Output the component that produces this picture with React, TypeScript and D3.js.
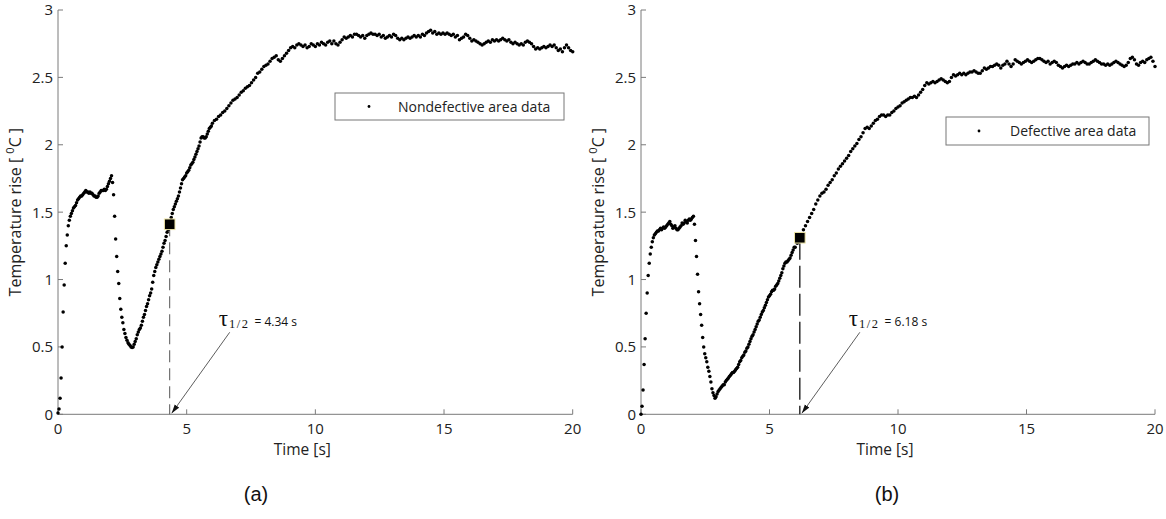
import React from 'react';
import * as d3 from 'd3';

// ---------- data ----------
const xTicks = [0, 5, 10, 15, 20];
const yTicks = [0, 0.5, 1, 1.5, 2, 2.5, 3];
const earlyStep = 0.04; // s, samples 0 .. 5.96 s
const lateStart = 6;
const lateStep = 0.08; // s, samples 6 .. 20 s

// Nondefective area (a)
const nondefEarly = [
  0.01, 0.04, 0.12, 0.27, 0.50, 0.76, 0.96, 1.12, 1.25, 1.33,
  1.40, 1.44, 1.47, 1.49, 1.51, 1.53, 1.54, 1.55, 1.57, 1.59,
  1.60, 1.61, 1.62, 1.62, 1.63, 1.64, 1.65, 1.66, 1.65, 1.65,
  1.64, 1.65, 1.64, 1.64, 1.63, 1.62, 1.62, 1.61, 1.61, 1.62,
  1.64, 1.65, 1.66, 1.66, 1.66, 1.67, 1.66, 1.67, 1.69, 1.71,
  1.73, 1.75, 1.77, 1.72, 1.63, 1.47, 1.30, 1.17, 1.06, 0.97,
  0.86, 0.78, 0.72, 0.68, 0.63, 0.60, 0.57, 0.55, 0.53, 0.52,
  0.51, 0.50, 0.495, 0.50, 0.52, 0.54, 0.56, 0.59, 0.61, 0.63,
  0.64, 0.66, 0.69, 0.72, 0.74, 0.77, 0.80, 0.82, 0.85, 0.88,
  0.90, 0.93, 0.98, 1.03, 1.06, 1.09, 1.11, 1.13, 1.15, 1.17,
  1.19, 1.21, 1.24, 1.27, 1.29, 1.32, 1.35, 1.37, 1.40, 1.43,
  1.46, 1.49, 1.52, 1.54, 1.56, 1.58, 1.60, 1.62, 1.65, 1.68,
  1.71, 1.74, 1.75, 1.76, 1.77, 1.79, 1.80, 1.81, 1.83, 1.85,
  1.86, 1.87, 1.89, 1.91, 1.93, 1.95, 1.97, 1.99, 2.02, 2.05,
  2.06, 2.06, 2.05, 2.05, 2.06, 2.08, 2.10, 2.12, 2.13, 2.14,
];
const nondefLate = [
  2.16, 2.18, 2.19, 2.21, 2.22, 2.24, 2.25, 2.27, 2.29, 2.31,
  2.33, 2.34, 2.35, 2.37, 2.39, 2.40, 2.42, 2.43, 2.44, 2.46,
  2.48, 2.50, 2.53, 2.54, 2.56, 2.58, 2.59, 2.60, 2.62, 2.64,
  2.65, 2.66, 2.63, 2.62, 2.64, 2.66, 2.68, 2.70, 2.72, 2.73,
  2.72, 2.74, 2.75, 2.74, 2.73, 2.74, 2.72, 2.73, 2.75, 2.74,
  2.73, 2.75, 2.74, 2.76, 2.75, 2.74, 2.76, 2.77, 2.75, 2.77,
  2.75, 2.74, 2.76, 2.78, 2.80, 2.79, 2.80, 2.81, 2.80, 2.82,
  2.82, 2.81, 2.80, 2.81, 2.79, 2.81, 2.82, 2.83, 2.82, 2.82,
  2.81, 2.82, 2.80, 2.81, 2.79, 2.80, 2.81, 2.80, 2.82, 2.81,
  2.79, 2.78, 2.79, 2.78, 2.79, 2.80, 2.79, 2.80, 2.81, 2.80,
  2.81, 2.80, 2.82, 2.81, 2.83, 2.84, 2.85, 2.83, 2.84, 2.82,
  2.83, 2.82, 2.83, 2.82, 2.83, 2.82, 2.81, 2.82, 2.80, 2.81,
  2.78, 2.79, 2.80, 2.82, 2.81, 2.79, 2.77, 2.78, 2.77, 2.76,
  2.75, 2.74, 2.75, 2.76, 2.77, 2.76, 2.78, 2.77, 2.78, 2.77,
  2.78, 2.79, 2.78, 2.77, 2.78, 2.76, 2.75, 2.76, 2.75, 2.74,
  2.75, 2.74, 2.76, 2.77, 2.76, 2.75, 2.73, 2.71, 2.72, 2.71,
  2.72, 2.73, 2.72, 2.73, 2.74, 2.73, 2.74, 2.72, 2.70, 2.71,
  2.69, 2.72, 2.74, 2.72, 2.70, 2.69,
];

// Defective area (b)
const defEarly = [
  0.00, 0.06, 0.18, 0.37, 0.56, 0.75, 0.90, 1.03, 1.12, 1.19,
  1.24, 1.28, 1.31, 1.33, 1.34, 1.35, 1.36, 1.36, 1.37, 1.38,
  1.37, 1.38, 1.39, 1.38, 1.39, 1.40, 1.41, 1.42, 1.43, 1.41,
  1.40, 1.38, 1.39, 1.40, 1.38, 1.37, 1.37, 1.38, 1.39, 1.40,
  1.42, 1.41, 1.42, 1.44, 1.43, 1.42, 1.44, 1.45, 1.44, 1.45,
  1.46, 1.47, 1.41, 1.29, 1.17, 1.04, 0.91, 0.82, 0.74, 0.66,
  0.57, 0.50, 0.45, 0.42, 0.39, 0.35, 0.32, 0.28, 0.24, 0.19,
  0.16, 0.14, 0.12, 0.13, 0.15, 0.17, 0.18, 0.19, 0.20, 0.21,
  0.22, 0.22, 0.24, 0.25, 0.26, 0.27, 0.28, 0.29, 0.30, 0.31,
  0.31, 0.32, 0.33, 0.34, 0.35, 0.37, 0.39, 0.40, 0.42, 0.43,
  0.44, 0.46, 0.47, 0.49, 0.50, 0.52, 0.54, 0.56, 0.58, 0.59,
  0.61, 0.63, 0.65, 0.67, 0.69, 0.70, 0.72, 0.74, 0.76, 0.77,
  0.79, 0.81, 0.83, 0.85, 0.87, 0.88, 0.89, 0.91, 0.92, 0.92,
  0.93, 0.95, 0.96, 0.97, 0.99, 1.01, 1.03, 1.05, 1.08, 1.10,
  1.12, 1.13, 1.13, 1.14, 1.15, 1.16, 1.18, 1.20, 1.22, 1.24,
];
const defLate = [
  1.24, 1.27, 1.31, 1.34, 1.37, 1.40, 1.43, 1.46, 1.49, 1.52,
  1.56, 1.59, 1.62, 1.64, 1.65, 1.67, 1.70, 1.72, 1.74, 1.77,
  1.79, 1.82, 1.84, 1.86, 1.88, 1.90, 1.92, 1.95, 1.97, 1.99,
  2.01, 2.04, 2.06, 2.09, 2.12, 2.13, 2.12, 2.14, 2.16, 2.18,
  2.19, 2.21, 2.22, 2.22, 2.21, 2.22, 2.22, 2.24, 2.25, 2.27,
  2.28, 2.29, 2.31, 2.32, 2.33, 2.34, 2.35, 2.35, 2.36, 2.35,
  2.37, 2.39, 2.41, 2.44, 2.46, 2.45, 2.46, 2.47, 2.46, 2.47,
  2.48, 2.49, 2.48, 2.47, 2.46, 2.47, 2.50, 2.52, 2.51, 2.52,
  2.53, 2.52, 2.53, 2.52, 2.53, 2.54, 2.54, 2.55, 2.54, 2.53,
  2.53, 2.55, 2.57, 2.56, 2.57, 2.58, 2.58, 2.59, 2.60, 2.59,
  2.57, 2.59, 2.60, 2.62, 2.60, 2.58, 2.60, 2.63, 2.62, 2.61,
  2.60, 2.61, 2.62, 2.63, 2.62, 2.61, 2.62, 2.63, 2.64, 2.64,
  2.63, 2.62, 2.61, 2.62, 2.60, 2.61, 2.62, 2.61, 2.59, 2.58,
  2.57, 2.58, 2.59, 2.58, 2.59, 2.60, 2.60, 2.61, 2.60, 2.61,
  2.62, 2.61, 2.60, 2.60, 2.61, 2.62, 2.63, 2.62, 2.61, 2.60,
  2.60, 2.59, 2.60, 2.59, 2.60, 2.61, 2.62, 2.61, 2.60, 2.59,
  2.58, 2.59, 2.61, 2.64, 2.65, 2.63, 2.60, 2.59, 2.61, 2.62,
  2.61, 2.63, 2.64, 2.65, 2.62, 2.58,
];

const legendLabels = ['Nondefective area data', 'Defective area data'];
const halfTimes = [4.34, 6.18];
const halfTemps = [1.41, 1.31];
const halfLabels = ['= 4.34 s', '= 6.18 s'];
const captions = ['(a)', '(b)'];

function buildPoints(early: number[], late: number[]): [number, number][] {
  return [
    ...early.map((v, i) => [i * earlyStep, v] as [number, number]),
    ...late.map((v, i) => [lateStart + i * lateStep, v] as [number, number]),
  ];
}

const series = [buildPoints(nondefEarly, nondefLate), buildPoints(defEarly, defLate)];

// ---------- layout ----------
const W = 1166;
const H = 519;
const TOP = 10;
const BOTTOM = 414.3;
const panelsLayout = [
  { left: 58, right: 572.7, legend: { x: 335, y: 93, w: 229, h: 27, dot: 34, tx: 63 }, dash: '12,6', dashColor: '#555', dashW: 1, caption: 256 },
  { left: 641, right: 1155, legend: { x: 946, y: 117, w: 203, h: 28, dot: 33, tx: 64 }, dash: '22,6', dashColor: '#111', dashW: 1.3, caption: 887 },
];

const SANS = "'Open Sans', 'DejaVu Sans', sans-serif";
const SERIF = "'Liberation Serif', 'DejaVu Serif', serif";

function Panel({ idx }: { idx: number }) {
  const L = panelsLayout[idx];
  const x = d3.scaleLinear().domain([0, 20]).range([L.left, L.right]);
  const y = d3.scaleLinear().domain([0, 3]).range([BOTTOM, TOP]);
  const pts = series[idx];
  const tx = x(halfTimes[idx]);
  const ty = y(halfTemps[idx]);
  const tipX = tx + 2;
  const tipY = y(0) - 1;
  const axisColor = '#7a7a7a';
  const labelColor = '#222';
  const lg = L.legend;
  return (
    <g>
      {/* axes */}
      <line x1={L.left} x2={L.left} y1={y(0)} y2={y(3)} stroke={axisColor} strokeWidth={1} />
      <line x1={L.left} x2={L.right} y1={y(0)} y2={y(0)} stroke={axisColor} strokeWidth={1} />
      {yTicks.map((t) => (
        <g key={'y' + t}>
          <line x1={L.left} x2={L.left + 5} y1={y(t)} y2={y(t)} stroke={axisColor} />
          <text x={L.left - 5} y={y(t)} dy="0.36em" textAnchor="end" fontSize={15} fill={labelColor}>
            {t}
          </text>
        </g>
      ))}
      {xTicks.map((t) => (
        <g key={'x' + t}>
          <line x1={x(t)} x2={x(t)} y1={y(0)} y2={y(0) - 5} stroke={axisColor} />
          <text x={x(t)} y={y(0) + 20} textAnchor="middle" fontSize={15} fill={labelColor}>
            {t}
          </text>
        </g>
      ))}
      {/* axis labels */}
      <text
        transform={`translate(${L.left - 37},${(y(0) + y(3)) / 2}) rotate(-90)`}
        textAnchor="middle"
        fontSize={16}
        fill={labelColor}
      >
        Temperature rise [ <tspan fontSize={11} dy={-7}>0</tspan>
        <tspan dy={7}>C ]</tspan>
      </text>
      <text x={(L.left + L.right) / 2 - 13} y={455} textAnchor="middle" fontSize={15.5} fill={labelColor}>
        Time [s]
      </text>
      {/* dashed vertical line */}
      <line x1={tx} x2={tx} y1={ty} y2={y(0)} stroke={L.dashColor} strokeWidth={L.dashW} strokeDasharray={L.dash} />
      {/* data */}
      <g fill="#000">
        {pts.map((p, i) => (
          <circle key={i} cx={x(p[0])} cy={y(p[1])} r={1.75} />
        ))}
      </g>
      {/* half-time marker */}
      <rect x={tx - 5.3} y={ty - 5.3} width={10.6} height={10.6} fill="#000" stroke="#efe6a8" strokeWidth={1} />
      {/* arrow */}
      <line x1={tipX + 58} y1={tipY - 81} x2={tipX} y2={tipY} stroke="#333" strokeWidth={0.8} markerEnd="url(#arrowHead)" />
      <text x={tipX + 47} y={tipY - 87} fill="#111">
        <tspan fontFamily={SERIF} fontSize={23}>τ</tspan>
        <tspan fontFamily={SERIF} fontSize={12.5} dy={2} dx={1} letterSpacing={1.5}>1/2</tspan>
        <tspan fontSize={12} dy={-2} dx={5}>{halfLabels[idx]}</tspan>
      </text>
      {/* legend */}
      <rect x={lg.x} y={lg.y} width={lg.w} height={lg.h} fill="#fff" stroke="#777" strokeWidth={1} />
      <circle cx={lg.x + lg.dot} cy={lg.y + lg.h / 2} r={1.4} fill="#000" />
      <text x={lg.x + lg.tx} y={lg.y + lg.h / 2} dy="0.36em" fontSize={14} fill={labelColor}>
        {legendLabels[idx]}
      </text>
      {/* caption */}
      <text x={L.caption} y={501} textAnchor="middle" fontFamily="'Liberation Sans', Arial, sans-serif" fontSize={20} fill="#111">
        {captions[idx]}
      </text>
    </g>
  );
}

export default function App() {
  return (
    <svg
      width={W}
      height={H}
      viewBox={`0 0 ${W} ${H}`}
      style={{ position: 'absolute', left: 0, top: 0, background: '#fff' }}
      fontFamily={SANS}
    >
      <defs>
        <marker id="arrowHead" viewBox="0 0 10 6" refX={10} refY={3} markerWidth={9} markerHeight={6} markerUnits="userSpaceOnUse" orient="auto">
          <path d="M0,0 L10,3 L0,6 Z" fill="#111" />
        </marker>
      </defs>
      <rect x={0} y={0} width={W} height={H} fill="#fff" />
      <Panel idx={0} />
      <Panel idx={1} />
    </svg>
  );
}
